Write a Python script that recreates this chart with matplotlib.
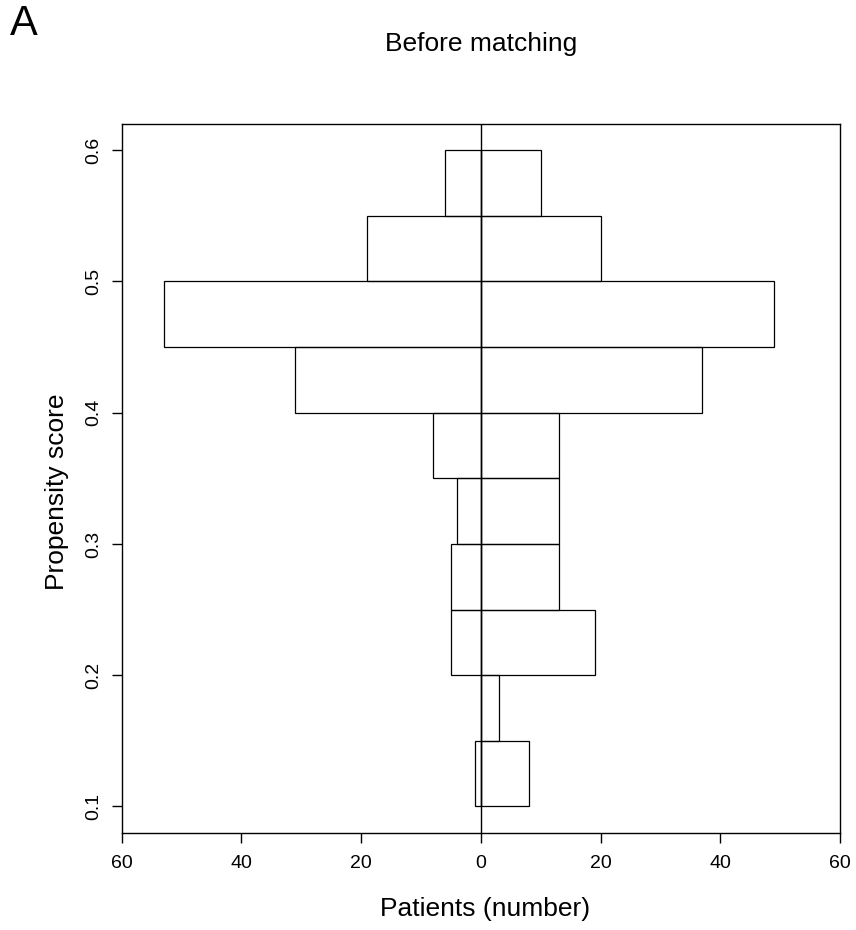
import matplotlib
matplotlib.use("Agg")
import matplotlib.pyplot as plt
import numpy as np

plt.rcParams['font.family'] = ['Liberation Sans', 'DejaVu Sans']

# Data
bin_starts = [0.10, 0.15, 0.20, 0.25, 0.30, 0.35, 0.40, 0.45, 0.50, 0.55]
bin_width = 0.05
left_counts = [1, 0, 5, 5, 4, 8, 31, 53, 19, 6]
right_counts = [8, 3, 19, 13, 13, 13, 37, 49, 20, 10]
x_ticks = [-60, -40, -20, 0, 20, 40, 60]
x_tick_labels = ["60", "40", "20", "0", "20", "40", "60"]
y_ticks = [0.1, 0.2, 0.3, 0.4, 0.5, 0.6]
y_tick_labels = ["0.1", "0.2", "0.3", "0.4", "0.5", "0.6"]

fig = plt.figure(figsize=(8.56, 9.3), dpi=100)
ax = fig.add_axes([0.1422, 0.1046, 0.9813 - 0.1422, 0.8667 - 0.1046])

ax.barh(bin_starts, [-v for v in left_counts], height=bin_width, align='edge',
        fill=False, edgecolor='black', linewidth=0.9)
ax.barh(bin_starts, right_counts, height=bin_width, align='edge',
        fill=False, edgecolor='black', linewidth=0.9)
ax.axvline(0, color='black', linewidth=1.0)

ax.set_xlim(-60, 60)
ax.set_ylim(0.08, 0.62)
ax.set_xticks(x_ticks)
ax.set_xticklabels(x_tick_labels, fontsize=14)
ax.set_yticks(y_ticks)
ax.set_yticklabels(y_tick_labels, fontsize=14, rotation=90, va='center')
ax.tick_params(axis='x', length=7, width=1, pad=9)
ax.tick_params(axis='y', length=7, width=1, pad=7)
for s in ax.spines.values():
    s.set_linewidth(1.0)

fig.text(485 / 856, 1 - 916 / 930, "Patients (number)", fontsize=19,
         ha='center', va='baseline')
fig.text(57 / 856, 1 - 492 / 930, "Propensity score", fontsize=19,
         ha='center', va='center', rotation=90)

fig.text(481 / 856, 1 - 51 / 930, "Before matching", fontsize=19,
         ha='center', va='baseline')
fig.text(10 / 856, 1 - 24 / 930, "A", fontsize=30, ha='left', va='center')

fig.savefig("out.png", dpi=100)
